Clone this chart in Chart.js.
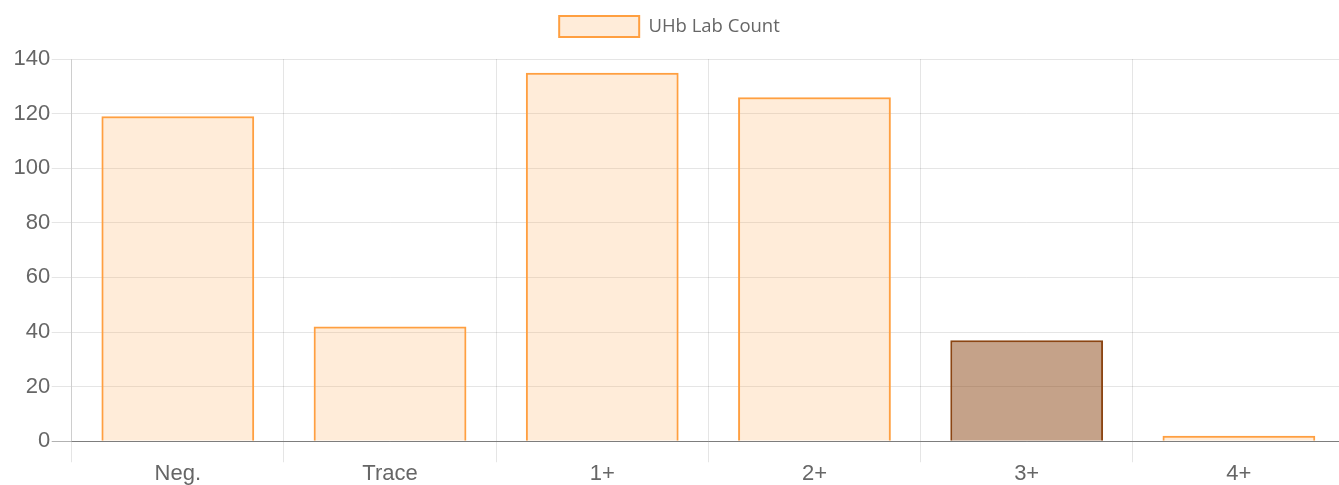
<!DOCTYPE html>
<html>
<head>
<meta charset="utf-8">
<script src="https://cdn.jsdelivr.net/npm/chart.js@4/dist/chart.umd.min.js"></script>
<style>
  html, body { margin: 0; padding: 0; background: #fff; overflow: hidden; }
  #wrap { width: 1345px; height: 485px; }
</style>
</head>
<body>
<div id="wrap"><canvas id="uhbChart"></canvas></div>
<script>
const categories = ['Neg.', 'Trace', '1+', '2+', '3+', '4+'];
const labCounts = [119, 42, 135, 126, 37, 2];
const highlightIndex = 4; // the 3+ bar is shown in brown

const fillColors = labCounts.map((v, i) => i === highlightIndex ? 'rgba(139, 69, 19, 0.5)' : 'rgba(255, 159, 64, 0.2)');
const lineColors = labCounts.map((v, i) => i === highlightIndex ? 'rgba(139, 69, 19, 1)' : 'rgba(255, 159, 64, 1)');

Chart.defaults.font.family = "'Liberation Sans', Arial, sans-serif";
Chart.defaults.color = '#666';

// a bit more room under the legend, and center it on the visible page
const legendGap = {
  id: 'legendGap',
  afterInit(chart) {
    const fit = chart.legend.fit;
    chart.legend.fit = function () {
      fit.bind(this)();
      this.height += 12;
    };
  },
  afterLayout(chart) {
    chart.legend.left -= 9;
    chart.legend.right -= 9;
  }
};

new Chart(document.getElementById('uhbChart'), {
  type: 'bar',
  data: {
    labels: categories,
    datasets: [{
      label: 'UHb Lab Count',
      data: labCounts,
      backgroundColor: fillColors,
      borderColor: lineColors,
      borderWidth: 2
    }]
  },
  options: {
    responsive: true,
    maintainAspectRatio: false,
    animation: false,
    layout: { padding: { top: 6, left: 12, right: 0, bottom: 0 } },
    plugins: {
      legend: {
        position: 'top',
        labels: {
          boxWidth: 80,
          boxHeight: 21,
          padding: 10,
          color: '#666',
          font: { family: "'Open Sans', sans-serif", size: 18.5 },
          generateLabels: () => [{
            text: 'UHb Lab Count',
            fillStyle: 'rgba(255, 159, 64, 0.2)',
            strokeStyle: 'rgba(255, 159, 64, 1)',
            lineWidth: 2,
            fontColor: '#666'
          }]
        }
      },
      tooltip: { enabled: false }
    },
    scales: {
      x: {
        grid: { color: 'rgba(0,0,0,0.1)', tickLength: 21 },
        border: { color: 'rgba(0,0,0,0.3)' },
        ticks: { font: { size: 22, lineHeight: 1.58 }, padding: -6 }
      },
      y: {
        min: 0,
        max: 140,
        ticks: { stepSize: 20, font: { size: 22 }, padding: 1.5 },
        grid: {
          tickLength: 20,
          color: (ctx) => ctx.tick && ctx.tick.value === 0 ? 'rgba(0,0,0,0.3)' : 'rgba(0,0,0,0.1)'
        },
        border: { color: 'rgba(0,0,0,0.1)' }
      }
    }
  },
  plugins: [legendGap]
});
</script>
</body>
</html>
